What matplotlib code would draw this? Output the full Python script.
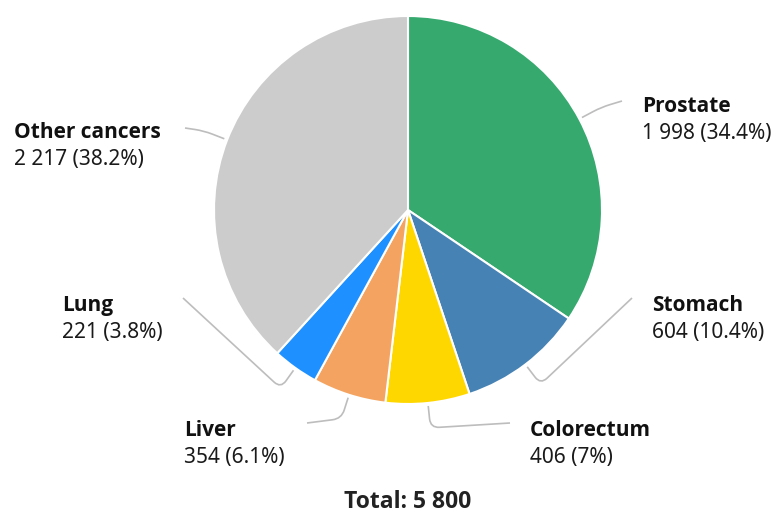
import matplotlib
matplotlib.use("Agg")
import matplotlib.pyplot as plt
import numpy as np
from matplotlib.path import Path
from matplotlib.patches import PathPatch

plt.rcParams['font.family'] = ['Noto Sans', 'DejaVu Sans']
BOLD_FONT = ['Open Sans', 'Noto Sans', 'DejaVu Sans']

# data
cancers = ['Prostate', 'Stomach', 'Colorectum', 'Liver', 'Lung', 'Other cancers']
counts = [1998, 604, 406, 354, 221, 2217]
colors = ['#36a96e', '#4682b4', '#ffd700', '#f4a460', '#1e90ff', '#cccccc']

# label layout in pixels (text left x, first line y, connector end x, y)
label_pos = [(642, 104, 622, 101),
             (652, 303, 632, 298),
             (530, 428, 510, 423),
             (184, 428, 307, 423),
             (62, 303, 183, 298),
             (14, 130, 185, 128)]

W, H = 776, 514
cx, cy, R = 408, 210, 194
FS = 15

fig = plt.figure(figsize=(W / 100, H / 100), dpi=100)
ax = fig.add_axes([0, 0, 1, 1])

# with inverted y axis counterclock=True runs clockwise on screen
wedges, _ = ax.pie(counts, colors=colors, startangle=-90, counterclock=True,
                   center=(cx, cy), radius=R, frame=True,
                   wedgeprops=dict(edgecolor='white', linewidth=1.5))
ax.set_xlim(0, W)
ax.set_ylim(H, 0)
ax.set_aspect('equal')
ax.axis('off')

total = sum(counts)


def fmt(n):
    return f'{n:,}'.replace(',', ' ')


for w, name, n, (tx, ty, ex, ey) in zip(wedges, cancers, counts, label_pos):
    ang = np.deg2rad((w.theta1 + w.theta2) / 2)
    u = np.array([np.cos(ang), np.sin(ang)])
    c = np.array([cx, cy])
    p0 = c + (R + 3) * u
    p1 = c + (R + 25) * u
    end = np.array([ex, ey])
    d = end - p1
    d = d / np.linalg.norm(d)
    a = p1 - u * 9
    b = p1 + d * 9
    path = Path([p0, a, p1, b, end],
                [Path.MOVETO, Path.LINETO, Path.CURVE3, Path.CURVE3, Path.LINETO])
    ax.add_patch(PathPatch(path, fill=False, edgecolor='#bdbdbd', linewidth=1.2))

    pct = round(n / total * 100, 1)
    pct_s = f'{pct:g}'
    ax.text(tx, ty + 8, name, fontsize=FS, fontweight='bold', family=BOLD_FONT,
            color='#111111', ha='left', va='baseline')
    ax.text(tx, ty + 35, f'{fmt(n)} ({pct_s}%)', fontsize=FS, color='#1a1a1a',
            ha='left', va='baseline')

ax.text(cx, 508, f'Total: {fmt(total)}', fontsize=16.5, fontweight='bold',
        family=BOLD_FONT, color='#222222', ha='center', va='baseline')

fig.savefig('out.png', dpi=100)
